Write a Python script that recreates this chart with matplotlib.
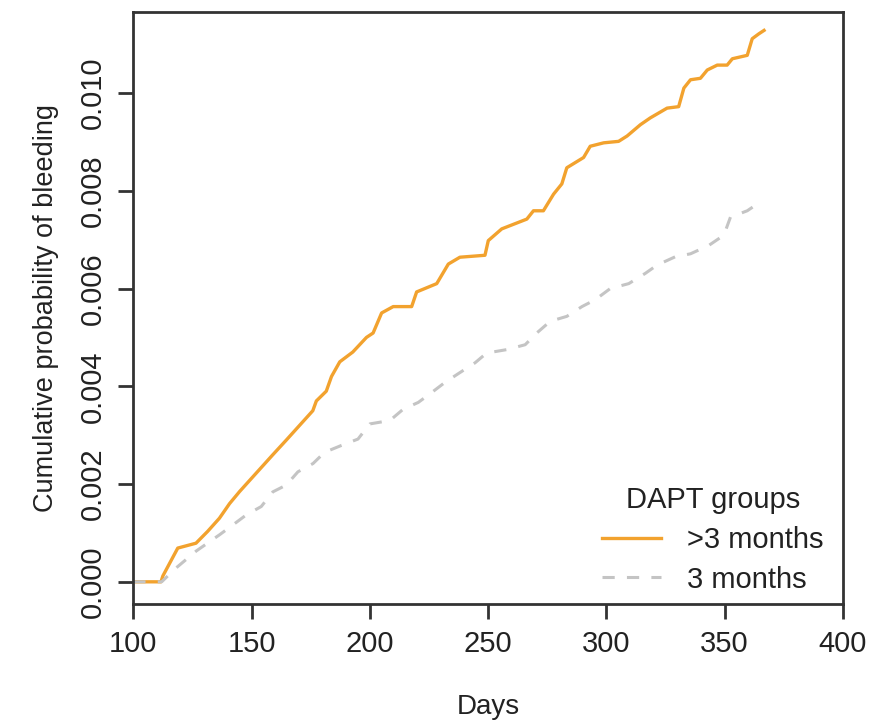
import matplotlib.pyplot as plt

plt.rcParams['font.family'] = ['Liberation Sans', 'DejaVu Sans']

# >3 months DAPT group
days_long = [100, 111.7, 112.5, 118.8, 126.5, 131.4, 136.4, 140.7, 145, 153.4, 159, 164.7,
             170.3, 175.9, 177.4, 181.6, 183.8, 187.3, 192.8, 198.6, 201.4, 205, 209.9,
             217.7, 219.8, 228.3, 233.2, 238.1, 248.7, 250.1, 255.8, 266.4, 269.2, 273.4,
             277.7, 281.2, 283.3, 290.4, 293.2, 298.9, 305.2, 308.8, 314.4, 318.6, 325.7,
             330.6, 332.8, 335.6, 339.8, 342.7, 346.9, 351.1, 353.3, 359.6, 361.7, 364.5,
             366.7]
prob_long = [0, 0, 0.00012, 0.00069, 0.00079, 0.00103, 0.0013, 0.0016, 0.00185, 0.0023,
             0.0026, 0.0029, 0.0032, 0.0035, 0.0037, 0.0039, 0.0042, 0.0045, 0.0047, 0.0050,
             0.00509, 0.0055, 0.00563, 0.00563, 0.00593, 0.0061, 0.0065, 0.00664, 0.00668,
             0.00698, 0.00722, 0.00742, 0.00759, 0.00759, 0.00793, 0.00814, 0.00847, 0.00868,
             0.00891, 0.00898, 0.00901, 0.00912, 0.00935, 0.00949, 0.00969, 0.00972, 0.0101,
             0.01027, 0.0103, 0.01047, 0.01057, 0.01057, 0.0107, 0.01077, 0.01111, 0.01121,
             0.01128]

# 3 months DAPT group
days_short = [100, 112, 118, 126.6, 136.4, 142, 147.8, 154.1, 159, 164.7, 169.6, 176, 180.9,
              188, 195, 200, 208.5, 214.1, 220.5, 226.1, 231.8, 238.1, 244.5, 249.4, 257.9,
              265.7, 270.6, 276.3, 283.3, 289.7, 295.3, 301.7, 309.5, 316.5, 321.5, 329.2,
              335.6, 343.3, 349.7, 352.5, 359.6, 366]
prob_short = [0, 0, 0.00028, 0.00063, 0.00096, 0.00116, 0.00137, 0.00154, 0.00184, 0.00198,
              0.00225, 0.00242, 0.00265, 0.00279, 0.00292, 0.00323, 0.0033, 0.00353, 0.00367,
              0.00387, 0.00408, 0.00428, 0.00448, 0.00468, 0.00475, 0.00485, 0.00509, 0.00533,
              0.00543, 0.00563, 0.00577, 0.006, 0.0061, 0.00631, 0.00648, 0.00665, 0.00671,
              0.00688, 0.00709, 0.00746, 0.00759, 0.0078]

x_ticks = [100, 150, 200, 250, 300, 350, 400]
y_ticks = [0.000, 0.002, 0.004, 0.006, 0.008, 0.010]

fig = plt.figure(figsize=(8.77, 7.24), dpi=100)
ax = fig.add_axes([0.152, 0.166, 0.809, 0.817])

ax.plot(days_long, prob_long, color='#F2A22E', lw=2.4, label='>3 months')
ax.plot(days_short, prob_short, color='#C4C4C4', lw=2.2, dashes=(4, 4),
        label='3 months')

ax.set_xlim(100, 400)
ax.set_ylim(-0.00045, 0.01165)
ax.set_xticks(x_ticks)
ax.set_xticklabels([str(t) for t in x_ticks])
ax.set_yticks(y_ticks)
ax.set_yticklabels(['%.3f' % t for t in y_ticks], rotation=90, va='center')

for s in ax.spines.values():
    s.set_color('#333333')
    s.set_linewidth(2)
ax.tick_params(axis='both', length=11, width=2, color='#333333',
               labelsize=21, labelcolor='#222222', pad=8)

ax.set_xlabel('Days', fontsize=20, color='#222222', labelpad=26)
ax.set_ylabel('Cumulative probability of bleeding', fontsize=19.5, color='#222222',
              labelpad=14)

leg = ax.legend(title='DAPT groups', frameon=False, fontsize=21, title_fontsize=21,
                handlelength=2.0, handletextpad=0.9, labelspacing=0.4,
                loc='center', bbox_to_anchor=(713 / 877, 1 - 540 / 724),
                bbox_transform=fig.transFigure)
for t in leg.get_texts():
    t.set_color('#222222')
leg.get_title().set_color('#222222')

fig.savefig('out.png', dpi=100)
